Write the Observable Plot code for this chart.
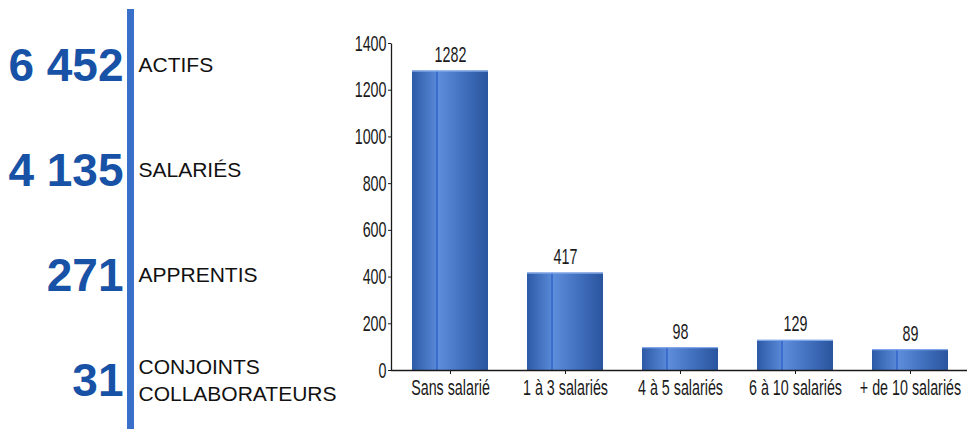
<!DOCTYPE html>
<html>
<head>
<meta charset="utf-8">
<script src="https://cdn.jsdelivr.net/npm/d3@7"></script>
<script src="https://cdn.jsdelivr.net/npm/@observablehq/plot@0.6"></script>
<style>
  html, body { margin: 0; padding: 0; background: #ffffff; }
  #wrap { position: relative; width: 967px; height: 429px; overflow: hidden; }
  #wrap > svg { position: absolute; left: 0; top: 0; }
  #sidebar { position: absolute; left: 127px; top: 9px; width: 7px; height: 420px; background: #3a6fca; }
</style>
</head>
<body>
<div id="wrap"><div id="sidebar"></div></div>
<script>
// ---- data ----
const kpiValues = ["6 452", "4 135", "271", "31"];
const kpiLabels = ["ACTIFS", "SALARIÉS", "APPRENTIS", "CONJOINTS\nCOLLABORATEURS"];

const categories = ["Sans salarié", "1 à 3 salariés", "4 à 5 salariés", "6 à 10 salariés", "+ de 10 salariés"];
const counts = [1282, 417, 98, 129, 89];
const yTicks = [0, 200, 400, 600, 800, 1000, 1200, 1400];

const kpiRows = kpiLabels.map((label, i) => ({label, value: kpiValues[i]}));
const rows = categories.map((cat, i) => ({cat, n: counts[i]}));

const FONT = "'Liberation Sans', Arial, Helvetica, sans-serif";
const wrap = document.getElementById("wrap");

// ---- bar chart ----
const W = 967, H = 429, mL = 391, mR = -3, mT = 43, mB = 59;
const fw = W - mL - mR, fh = H - mT - mB;
const FS = 22;

const chart = Plot.plot({
  width: W, height: H,
  marginLeft: mL, marginRight: mR, marginTop: mT, marginBottom: mB,
  style: {fontFamily: FONT, background: "transparent", color: "#1a1a1a", overflow: "visible"},
  x: {domain: categories, paddingInner: 0.336, paddingOuter: 0.164},
  y: {domain: [0, 1400]},
  marks: [
    Plot.barY(rows, {x: "cat", y: "n", fill: "url(#barGrad)"}),
    Plot.tickY(rows, {x: "cat", y: "n", stroke: "#7fa6e8", strokeWidth: 1.2}),
    Plot.frame({stroke: "#1a1a1a", strokeWidth: 1.3, strokeDasharray: `0 ${fw + fh} ${fw + fh}`}),
    Plot.axisY({ticks: yTicks, tickSize: 3, tickPadding: 2, fontSize: FS, label: null, tickFormat: d => String(d), stroke: "#1a1a1a", fill: "#1a1a1a"}),
    Plot.axisX({tickSize: 4, tickPadding: 5, fontSize: FS, label: null, stroke: "#1a1a1a", fill: "#1a1a1a"}),
    Plot.text(rows, {x: "cat", y: "n", text: d => String(d.n), lineAnchor: "bottom", dy: -9, fontSize: FS, fill: "#1a1a1a"})
  ]
});

const ns = "http://www.w3.org/2000/svg";
const defs = document.createElementNS(ns, "defs");
defs.innerHTML = `
  <linearGradient id="barGrad" x1="0" x2="1" y1="0" y2="0">
    <stop offset="0" stop-color="#2d5aa6"/>
    <stop offset="0.31" stop-color="#5686d4"/>
    <stop offset="0.322" stop-color="#3b6ecc"/>
    <stop offset="0.338" stop-color="#3b6ecc"/>
    <stop offset="0.345" stop-color="#5e8edb"/>
    <stop offset="0.62" stop-color="#4575c3"/>
    <stop offset="1" stop-color="#2a549e"/>
  </linearGradient>`;
chart.insertBefore(defs, chart.firstChild);

// condensed look of the original labels
chart.querySelectorAll("text").forEach(t => {
  const tr = t.getAttribute("transform") || "";
  t.setAttribute("transform", (tr + " scale(0.65,1)").trim());
});
wrap.appendChild(chart);

// ---- key figures ----
const kpi = Plot.plot({
  width: 360, height: 429, margin: 0,
  style: {fontFamily: FONT, background: "transparent", overflow: "visible"},
  y: {type: "point", domain: kpiLabels, range: [80, 395], padding: 0, axis: null},
  marks: [
    Plot.text(kpiRows, {y: "label", text: "value", frameAnchor: "left", dx: 123, textAnchor: "end", lineAnchor: "bottom", fontSize: 46, fontWeight: "bold", fill: "#1752a6"}),
    Plot.text(kpiRows, {y: "label", text: "label", frameAnchor: "left", dx: 138, textAnchor: "start", lineAnchor: "middle", dy: -17, fontSize: 21, lineHeight: 1.29, fill: "#111"})
  ]
});
wrap.appendChild(kpi);
</script>
</body>
</html>
